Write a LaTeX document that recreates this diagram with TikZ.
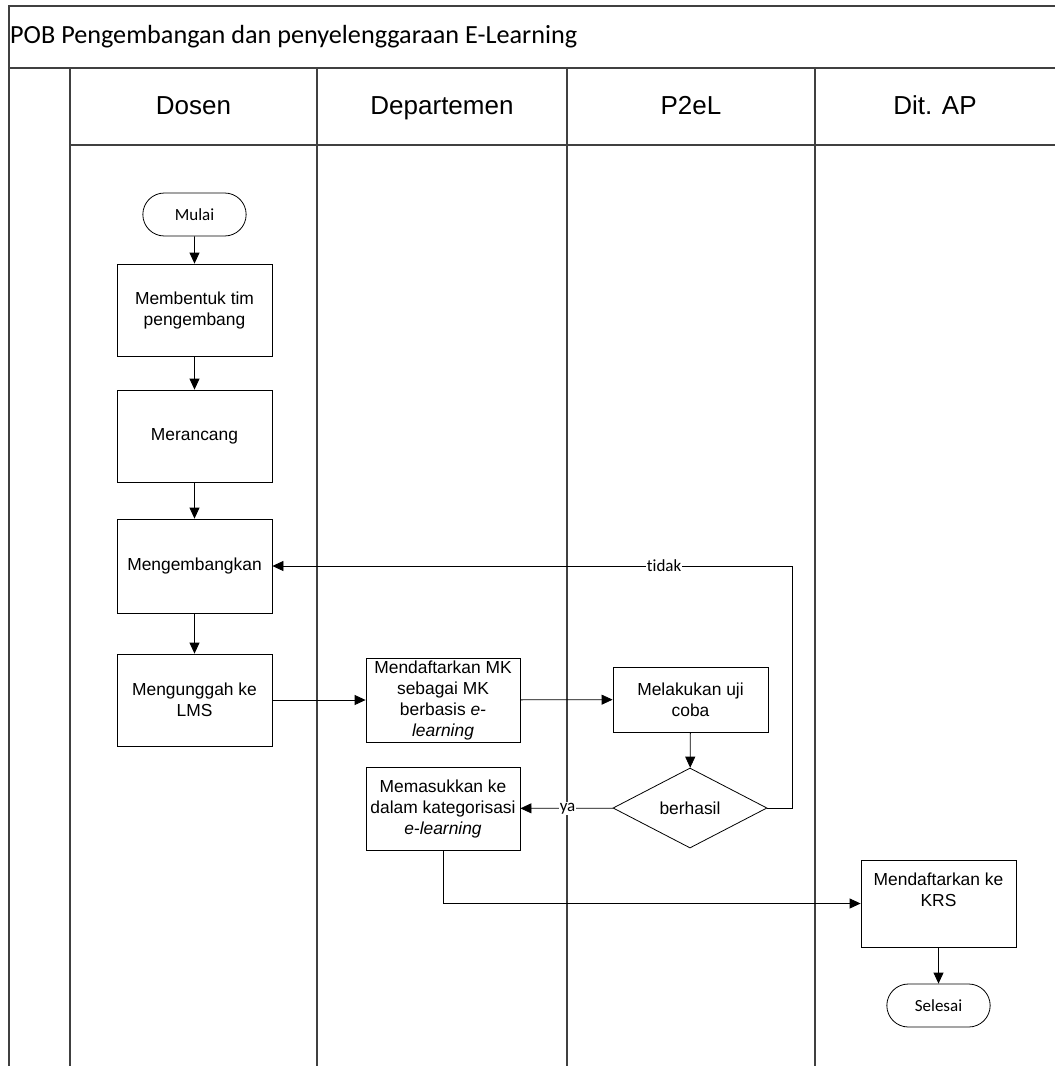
\documentclass[tikz,border=0pt]{standalone}
\usepackage{fontspec}
\setmainfont{Liberation Sans}
\newfontfamily\calibri[Ligatures={NoCommon}]{Carlito}
\usetikzlibrary{arrows.meta,calc,shapes.geometric,shapes.misc}

\begin{document}
\begin{tikzpicture}[x=1pt,y=-1pt,>={Triangle[length=11pt,width=10pt]},
  lane/.style={line width=1.6pt,black!75},
  kepala/.style={text height=19pt,text depth=5pt,font=\fontsize{26}{30}\selectfont},
  proses/.style={draw,line width=0.8pt,rectangle,minimum width=155pt,minimum height=92pt,
    align=center,inner sep=2pt,font=\fontsize{17.4}{21}\selectfont},
  terminal/.style={draw,line width=0.8pt,rounded rectangle,minimum width=110pt,minimum height=43pt,
    font=\calibri\fontsize{17}{20}\selectfont},
  keputusan/.style={draw,line width=0.8pt,diamond,aspect=2,inner sep=0pt,minimum width=154pt,
    minimum height=80pt,font=\fontsize{17.4}{21}\selectfont},
  panah/.style={->,line width=0.8pt},
  ket/.style={fill=white,inner sep=1pt,font=\calibri\fontsize{17}{20}\selectfont}]

\useasboundingbox (0,0) rectangle (1055,1066);

% ---------------- Swimlanes ----------------
\draw[lane] (9,1066) -- (9,6) -- (1055,6);
\draw[lane] (9,68) -- (1055,68);
\draw[lane] (70,145) -- (1055,145);
\foreach \x in {70,317,567,815}
  \draw[lane] (\x,68) -- (\x,1066);

\node[anchor=west,inner sep=1pt,font=\calibri\fontsize{26.2}{30}\selectfont] (judul) at (9,37)
  {POB Pengembangan dan penyelenggaraan E-Learning};

\node[kepala] (dosen) at (193.5,107) {Dosen};
\node[kepala] (dept) at (442,107) {Departemen};
\node[kepala] (ptel) at (691,107) {P2eL};
\node[kepala] (ditap) at (935,107) {Dit. AP};

% ---------------- Steps ----------------
\node[terminal] (mulai) at (194.5,214.5) {Mulai};
\node[proses] (bentuk) at (194.5,310) {Membentuk tim\\pengembang};
\node[proses] (rancang) at (194.5,436) {Merancang};
\node[proses,minimum height=94pt] (kembang) at (194.5,566) {Mengembangkan};
\node[proses] (unggah) at (194.5,700) {Mengunggah ke\\LMS};

\node[proses,minimum width=154pt,minimum height=84pt] (daftarmk) at (443,700)
  {Mendaftarkan MK\\sebagai MK\\berbasis \textit{e-}\\\textit{learning}};
\node[proses,minimum height=83pt,minimum width=154pt] (masuk) at (443,808.5)
  {Memasukkan ke\\dalam kategorisasi\\\textit{e-learning}};

\node[proses,minimum height=65pt] (uji) at (690.5,699.5) {Melakukan uji\\coba};
\node[keputusan] (hasil) at (690,808) {berhasil};

\node[proses,minimum height=87pt] (krs) at (938.5,903.5) {Mendaftarkan ke\\KRS\\\strut};
\node[terminal] (selesai) at (938.5,1005.5) {Selesai};

% ---------------- Flow ----------------
\draw[panah] (mulai) -- (bentuk);
\draw[panah] (bentuk) -- (rancang);
\draw[panah] (rancang) -- (kembang);
\draw[panah] (kembang) -- (unggah);
\draw[panah] (unggah) -- (daftarmk);
\draw[panah] (daftarmk) -- (uji);
\draw[panah] (uji) -- (hasil);
\draw[panah] (hasil) -- node[ket,pos=0.49] {ya} (masuk);

\coordinate (belok) at (792,566);
\draw[panah] (hasil.east) -| (belok) -- node[ket,pos=0.246] {tidak} (kembang.east);

\draw[panah] (masuk.south) |- (krs.west);
\draw[panah] (krs) -- (selesai);

\end{tikzpicture}
\end{document}
